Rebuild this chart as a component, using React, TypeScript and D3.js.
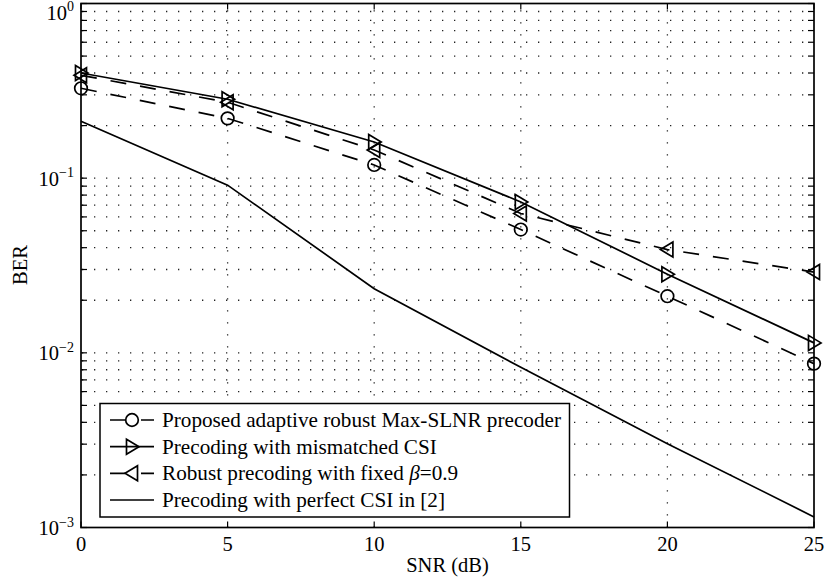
import React from 'react';
import * as d3 from 'd3';

const snr = [0, 5, 10, 15, 20, 25];
const berProposed = [0.327, 0.22, 0.119, 0.0508, 0.0211, 0.00867];
const berMismatched = [0.4, 0.283, 0.161, 0.0731, 0.0282, 0.0114];
const berRobustFixed = [0.388, 0.272, 0.145, 0.0628, 0.039, 0.029];
const berPerfect = [0.212, 0.0912, 0.0233, 0.00826, 0.00302, 0.00115];

const xTicks = [0, 5, 10, 15, 20, 25];
const yDecades = [-3, -2, -1, 0];

const FONT = '"Liberation Serif", "Times New Roman", serif';

const series = [
  { name: 'Proposed adaptive robust Max-SLNR precoder', values: berProposed, dash: '16,14', marker: 'circle' },
  { name: 'Precoding with mismatched CSI', values: berMismatched, dash: null, marker: 'right' },
  { name: 'Robust precoding with fixed β=0.9', values: berRobustFixed, dash: '16,14', marker: 'left' },
  { name: 'Precoding with perfect CSI in [2]', values: berPerfect, dash: null, marker: null },
];

const Marker = ({ type, x, y }) => {
  if (type === 'circle') return <circle cx={x} cy={y} r={6.3} fill="none" stroke="#000" strokeWidth={1.7} />;
  if (type === 'right')
    return <path d={`M${x - 5.5},${y - 7.5}L${x + 7},${y}L${x - 5.5},${y + 7.5}Z`} fill="none" stroke="#000" strokeWidth={1.7} />;
  if (type === 'left')
    return <path d={`M${x + 5.5},${y - 7.5}L${x - 7},${y}L${x + 5.5},${y + 7.5}Z`} fill="none" stroke="#000" strokeWidth={1.7} />;
  return null;
};

const App = () => {
  const width = 827;
  const height = 577;
  const left = 81, right = 814, top = 3.5, bottom = 527.5;

  const x = d3.scaleLinear().domain([0, 25]).range([left, right]);
  const y = d3.scaleLog().domain([1e-3, 1]).range([bottom, top]);

  const minorVals = [];
  yDecades.slice(0, 3).forEach((p) => {
    for (let k = 2; k <= 9; k++) minorVals.push(k * Math.pow(10, p));
  });
  const gridYVals = [...minorVals, 1e-2, 1e-1];

  const line = d3.line().x((d) => x(d[0])).y((d) => y(d[1]));

  // dotted grid
  const gridLines = (
    <g stroke="#222" strokeWidth={1.3} strokeDasharray="1.3,10.7">
      {gridYVals.map((v, i) => (
        <line key={'gy' + i} x1={left + 1} x2={right} y1={y(v)} y2={y(v)} />
      ))}
      {xTicks.slice(1, -1).map((t) => (
        <line key={'gx' + t} x1={x(t)} x2={x(t)} y1={bottom} y2={top} />
      ))}
    </g>
  );

  const curves = series.map((s, i) => (
    <g key={i}>
      <path d={line(snr.map((v, j) => [v, s.values[j]]))} fill="none" stroke="#000" strokeWidth={1.7} strokeDasharray={s.dash || undefined} />
      {s.marker && snr.map((v, j) => <Marker key={j} type={s.marker} x={x(v)} y={y(s.values[j])} />)}
    </g>
  ));

  const tickLen = 6;
  const ticks = (
    <g stroke="#000" strokeWidth={1.2}>
      {xTicks.map((t) => (
        <g key={'xt' + t}>
          <line x1={x(t)} x2={x(t)} y1={bottom} y2={bottom - tickLen} />
          <line x1={x(t)} x2={x(t)} y1={top} y2={top + tickLen} />
        </g>
      ))}
      {[...minorVals, ...yDecades.map((p) => Math.pow(10, p))].map((v, i) => (
        <g key={'yt' + i}>
          <line x1={left} x2={left + tickLen} y1={y(v)} y2={y(v)} />
          <line x1={right} x2={right - tickLen} y1={y(v)} y2={y(v)} />
        </g>
      ))}
    </g>
  );

  const xLabels = xTicks.map((t) => (
    <text key={'xl' + t} x={x(t)} y={550.5} textAnchor="middle" fontSize={20.5}>
      {t}
    </text>
  ));

  const yLabels = yDecades.map((p) => (
    <text key={'yl' + p} x={74} y={Math.max(y(Math.pow(10, p)) + 7.5, 19.5)} textAnchor="end" fontSize={20.5}>
      10
      <tspan fontSize={14} dy={-8.5}>{p === 0 ? '0' : '\u2212' + Math.abs(p)}</tspan>
    </text>
  ));

  // legend
  const lgX = 100, lgY = 403.5, lgW = 469.5, lgH = 113.5;
  const legend = (
    <g>
      <rect x={lgX} y={lgY} width={lgW} height={lgH} fill="#fff" stroke="#000" strokeWidth={1.5} />
      {series.map((s, i) => {
        const cy = 420 + i * 26.67;
        return (
          <g key={'lg' + i}>
            <line x1={110} x2={154} y1={cy} y2={cy} stroke="#000" strokeWidth={1.7} strokeDasharray={s.dash ? '15,16' : undefined} />
            {s.marker && <Marker type={s.marker} x={132} y={cy} />}
            <text x={162} y={cy + 7} fontSize={21.2}>
              {s.name.includes('β') ? (
                <>
                  {s.name.split('β')[0]}
                  <tspan fontStyle="italic">β</tspan>
                  {s.name.split('β')[1]}
                </>
              ) : (
                s.name
              )}
            </text>
          </g>
        );
      })}
    </g>
  );

  return (
    <svg width={width} height={height} style={{ position: 'absolute', left: 0, top: 0, background: '#fff' }} fontFamily={FONT}>
      <rect x={0} y={0} width={width} height={height} fill="#fff" />
      {gridLines}
      {curves}
      {ticks}
      <rect x={left} y={top} width={right - left} height={bottom - top} fill="none" stroke="#000" strokeWidth={1.7} />
      {legend}
      {xLabels}
      {yLabels}
      <text x={447.5} y={572} textAnchor="middle" fontSize={20.5}>
        SNR (dB)
      </text>
      <text transform="translate(27,265) rotate(-90)" textAnchor="middle" fontSize={20.5}>
        BER
      </text>
    </svg>
  );
};

export default App;
